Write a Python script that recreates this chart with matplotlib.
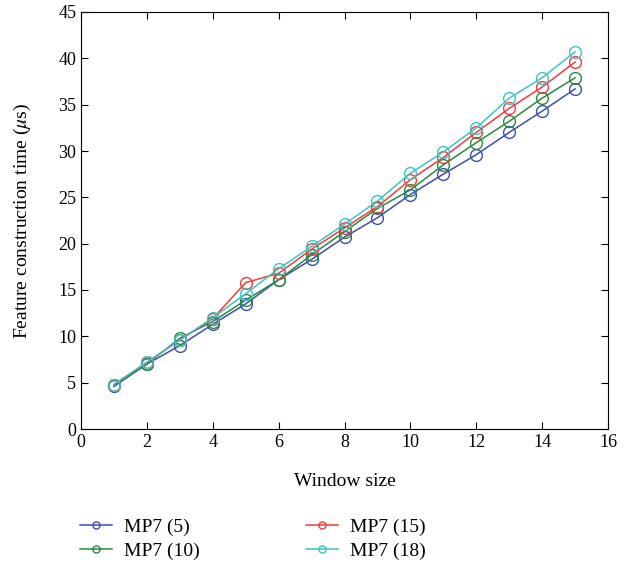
import matplotlib
matplotlib.use("Agg")
import matplotlib.pyplot as plt

# Datos
ventana = [1, 2, 3, 4, 5, 6, 7, 8, 9, 10, 11, 12, 13, 14, 15]
mp7_5 = [4.6, 7.0, 9.0, 11.3, 13.5, 16.1, 18.3, 20.7, 22.8, 25.3, 27.5, 29.6, 32.0, 34.3, 36.7]
mp7_10 = [4.8, 7.0, 9.8, 11.6, 13.9, 16.1, 18.8, 21.3, 23.8, 25.8, 28.5, 30.9, 33.2, 35.7, 37.9]
mp7_15 = [4.8, 7.2, 9.6, 11.9, 15.8, 16.8, 19.4, 21.7, 24.0, 26.9, 29.3, 32.0, 34.6, 36.9, 39.6]
mp7_18 = [4.8, 7.2, 9.6, 12.0, 14.6, 17.3, 19.7, 22.1, 24.6, 27.6, 29.9, 32.5, 35.7, 37.9, 40.7]

series = [
    ("MP7 (5)", mp7_5, "#3a4fae"),
    ("MP7 (10)", mp7_10, "#2a8a3c"),
    ("MP7 (15)", mp7_15, "#f03c3c"),
    ("MP7 (18)", mp7_18, "#3cc4c4"),
]

plt.rcParams["font.family"] = ["Liberation Serif", "DejaVu Serif"]
plt.rcParams["mathtext.fontset"] = "stix"

fig = plt.figure(figsize=(6.38, 5.67), dpi=100)
ax = fig.add_axes([81 / 638, 1 - 429 / 567, 527 / 638, 417 / 567])

for nombre, valores, color in series:
    ax.plot(ventana, valores, color=color, lw=1.1, marker="o", ms=8.5,
            mfc="none", mec=color, mew=1.0, label=nombre)

ax.set_xlim(0, 16)
ax.set_ylim(0, 45)
ax.set_xticks(range(0, 17, 2))
ax.set_yticks(range(0, 46, 5))
ax.tick_params(direction="in", top=True, right=True, labelsize=13, length=5)
ax.set_xlabel("Window size", fontsize=14, labelpad=16)
ax.set_ylabel(r"Feature construction time ($\mu$s)", fontsize=14, labelpad=18)

fig.legend(ncol=2, frameon=False, fontsize=14, loc="upper left",
           bbox_to_anchor=(62 / 638, 1 - 501 / 567), columnspacing=5.5,
           handlelength=1.65, handletextpad=0.62, markerscale=0.6,
           labelspacing=0.3)

fig.savefig("out.png", dpi=100)
plt.close(fig)
